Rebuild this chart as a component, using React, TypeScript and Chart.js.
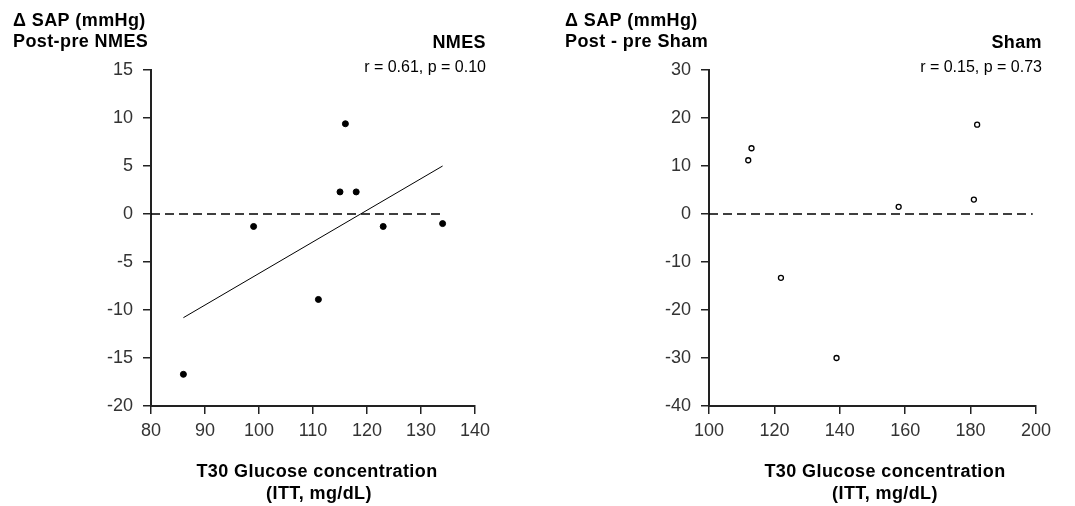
import React, { useEffect, useRef } from "react";
import { Chart, registerables } from "chart.js";

Chart.register(...registerables);

const FONT = '"Liberation Sans", Arial, Helvetica, sans-serif';

// ---- NMES panel data ----
const nmesGlucose = [86, 99, 111, 115, 116, 118, 123, 134];
const nmesDeltaSAP = [-16.7, -1.3, -8.9, 2.3, 9.4, 2.3, -1.3, -1.0];
const nmesFitGlucose = [86, 134];
const nmesFitDeltaSAP = [-10.8, 5.0];
const nmesZeroGlucose = [80, 134];
const nmesXRange = [80, 140, 10]; // min, max, step
const nmesYRange = [-20, 15, 5];

// ---- Sham panel data ----
const shamGlucose = [112, 113, 122, 139, 158, 181, 182];
const shamDeltaSAP = [11.2, 13.7, -13.3, -30.0, 1.5, 3.0, 18.6];
const shamZeroGlucose = [100, 199];
const shamXRange = [100, 200, 20];
const shamYRange = [-40, 30, 10];

// ---- Texts ----
const yTitleLine1 = "Δ SAP (mmHg)";
const nmesYTitleLine2 = "Post-pre NMES";
const shamYTitleLine2 = "Post - pre Sham";
const nmesGroup = "NMES";
const shamGroup = "Sham";
const nmesStats = "r = 0.61, p = 0.10";
const shamStats = "r = 0.15, p = 0.73";
const xTitleLine1 = "T30 Glucose concentration";
const xTitleLine2 = "(ITT, mg/dL)";

const toPoints = (xs: number[], ys: number[]) => xs.map((x, i) => ({ x, y: ys[i] }));

type TextItem = { text: string; x: number; y: number; align: CanvasTextAlign; font: string; spacing?: string };

function textPlugin(items: TextItem[]) {
  return {
    id: "panelText",
    afterDraw(chart: any) {
      const ctx: CanvasRenderingContext2D = chart.ctx;
      ctx.save();
      for (const t of items) {
        ctx.font = t.font;
        ctx.fillStyle = "#000";
        ctx.textAlign = t.align;
        ctx.textBaseline = "alphabetic";
        (ctx as any).letterSpacing = t.spacing || "0px";
        ctx.fillText(t.text, t.x, t.y);
      }
      ctx.restore();
    },
  };
}

type PanelProps = {
  width: number;
  yWidth: number;
  padRight: number;
  xRange: number[];
  yRange: number[];
  datasets: any[];
  texts: TextItem[];
};

function axis(range: number[], isX: boolean, size: number) {
  return {
    type: "linear",
    min: range[0],
    max: range[1],
    ticks: {
      stepSize: range[2],
      autoSkip: false,
      maxRotation: 0,
      color: "#333",
      padding: isX ? 6 : 10,
      font: { family: FONT, size: 18 },
    },
    grid: {
      drawOnChartArea: false,
      drawTicks: true,
      tickLength: 8,
      color: "#222",
      lineWidth: 1.5,
    },
    border: { display: true, color: "#222", width: 2 },
    afterFit: (s: any) => {
      if (isX) s.height = size;
      else s.width = size;
    },
  };
}

function Panel(props: PanelProps) {
  const ref = useRef<HTMLCanvasElement>(null);
  useEffect(() => {
    if (!ref.current) return;
    const chart = new Chart(ref.current, {
      type: "scatter",
      data: { datasets: props.datasets },
      options: {
        responsive: false,
        animation: false,
        layout: { padding: { top: 70, right: props.padRight, bottom: 0, left: 0 } },
        plugins: { legend: { display: false }, tooltip: { enabled: false } },
        scales: {
          x: axis(props.xRange, true, 100) as any,
          y: axis(props.yRange, false, props.yWidth) as any,
        },
      },
      plugins: [textPlugin(props.texts) as any],
    } as any);
    return () => chart.destroy();
  }, []);
  return <canvas ref={ref} width={props.width} height={506} style={{ display: "block" }} />;
}

const bold18 = `bold 18px ${FONT}`;
const reg16 = `16px ${FONT}`;

const zeroStyle = {
  showLine: true,
  borderColor: "#000",
  borderWidth: 1.5,
  borderDash: [9, 5],
  pointRadius: 0,
};

export default function App() {
  const nmesDatasets = [
    { ...zeroStyle, data: toPoints(nmesZeroGlucose, [0, 0]), order: 3 },
    {
      showLine: true,
      borderColor: "#000",
      borderWidth: 1,
      pointRadius: 0,
      data: toPoints(nmesFitGlucose, nmesFitDeltaSAP),
      order: 2,
    },
    {
      data: toPoints(nmesGlucose, nmesDeltaSAP),
      pointRadius: 3,
      pointBackgroundColor: "#000",
      pointBorderColor: "#000",
      pointBorderWidth: 1,
      order: 1,
    },
  ];
  const shamDatasets = [
    { ...zeroStyle, data: toPoints(shamZeroGlucose, [0, 0]), order: 2 },
    {
      data: toPoints(shamGlucose, shamDeltaSAP),
      pointRadius: 2.5,
      pointBackgroundColor: "#fff",
      pointBorderColor: "#000",
      pointBorderWidth: 1.3,
      order: 1,
    },
  ];
  const nmesTexts: TextItem[] = [
    { text: yTitleLine1, x: 13, y: 26, align: "left", font: bold18, spacing: "0.4px" },
    { text: nmesYTitleLine2, x: 13, y: 47, align: "left", font: bold18, spacing: "0.4px" },
    { text: nmesGroup, x: 486, y: 47.5, align: "right", font: bold18, spacing: "0.4px" },
    { text: nmesStats, x: 486, y: 72, align: "right", font: reg16 },
    { text: xTitleLine1, x: 317, y: 477, align: "center", font: bold18, spacing: "0.4px" },
    { text: xTitleLine2, x: 319, y: 499, align: "center", font: bold18, spacing: "0.4px" },
  ];
  const shamTexts: TextItem[] = [
    { text: yTitleLine1, x: 28, y: 26, align: "left", font: bold18, spacing: "0.4px" },
    { text: shamYTitleLine2, x: 28, y: 47, align: "left", font: bold18, spacing: "0.4px" },
    { text: shamGroup, x: 505, y: 48, align: "right", font: bold18, spacing: "0.4px" },
    { text: shamStats, x: 505, y: 72, align: "right", font: reg16 },
    { text: xTitleLine1, x: 348, y: 477, align: "center", font: bold18, spacing: "0.4px" },
    { text: xTitleLine2, x: 348, y: 499, align: "center", font: bold18, spacing: "0.4px" },
  ];
  return (
    <div style={{ position: "absolute", left: 0, top: 0, width: 1075, height: 506, background: "#fff", display: "flex" }}>
      <Panel width={537} yWidth={151} padRight={62} xRange={nmesXRange} yRange={nmesYRange} datasets={nmesDatasets} texts={nmesTexts} />
      <Panel width={538} yWidth={172} padRight={39} xRange={shamXRange} yRange={shamYRange} datasets={shamDatasets} texts={shamTexts} />
    </div>
  );
}
